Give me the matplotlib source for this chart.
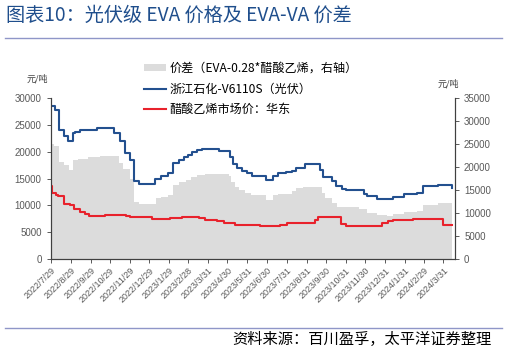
import pandas as pd
import matplotlib
matplotlib.use('Agg')
import matplotlib.pyplot as plt
from matplotlib.patches import Patch

plt.rcParams['font.family'] = ['Noto Sans CJK SC', 'DejaVu Sans']

# 浙江石化 V6110S（光伏），元/吨，左轴
eva_dates = ['2022-07-29', '2022-08-04', '2022-08-11', '2022-08-18', '2022-08-25',
             '2022-09-01', '2022-09-05', '2022-09-12', '2022-10-09', '2022-11-05',
             '2022-11-14', '2022-11-22', '2022-11-29', '2022-12-05', '2022-12-13',
             '2023-01-08', '2023-01-17', '2023-01-28', '2023-02-05', '2023-02-14',
             '2023-02-21', '2023-02-28', '2023-03-06', '2023-03-13', '2023-03-21',
             '2023-04-17', '2023-05-04', '2023-05-09', '2023-05-15', '2023-05-22',
             '2023-05-30', '2023-06-07', '2023-06-29', '2023-07-10', '2023-07-18',
             '2023-07-30', '2023-08-08', '2023-08-15', '2023-08-29', '2023-09-21',
             '2023-09-26', '2023-10-09', '2023-10-16', '2023-10-25', '2023-11-01',
             '2023-11-28', '2023-12-03', '2023-12-18', '2024-01-13', '2024-01-29',
             '2024-02-19', '2024-02-28', '2024-03-23', '2024-04-14']
eva_values = [28500, 27800, 24000, 23000, 22000,
              23500, 23800, 24000, 24500, 23500,
              22000, 19700, 18500, 14500, 14000,
              15000, 15500, 16000, 18000, 18500,
              19000, 19500, 20000, 20300, 20500,
              20200, 19000, 17800, 17000, 16500,
              16000, 15500, 14800, 15500, 16000,
              16200, 16500, 17000, 17700, 16700,
              15300, 14600, 13600, 13100, 12900,
              12200, 11700, 11200, 11600, 12100,
              12350, 13600, 13850, 13300]

# 醋酸乙烯市场价：华东，元/吨，左轴
va_dates = ['2022-07-29', '2022-07-31', '2022-08-06', '2022-08-10', '2022-08-18',
            '2022-08-28', '2022-09-03', '2022-09-12', '2022-09-20', '2022-09-27',
            '2022-10-22', '2022-11-23', '2022-11-29', '2023-01-02', '2023-01-07',
            '2023-01-31', '2023-02-18', '2023-03-16', '2023-03-26', '2023-04-13',
            '2023-04-25', '2023-05-12', '2023-06-20', '2023-07-13', '2023-07-21',
            '2023-08-01', '2023-09-13', '2023-09-18', '2023-10-24', '2023-11-01',
            '2023-12-19', '2023-12-27', '2024-01-04', '2024-01-12', '2024-02-13',
            '2024-03-31', '2024-04-14']
va_values = [13700, 12300, 12000, 11700, 10200,
             10000, 9300, 8800, 8400, 8000,
             8200, 8000, 7850, 7400, 7550,
             7600, 7800, 7600, 7350, 7100,
             6800, 6350, 6100, 6200, 6400,
             6750, 7200, 7750, 6600, 6100,
             6100, 6700, 7100, 7350, 7500,
             6300, 6300]

# 价差（EVA-0.28*醋酸乙烯），元/吨，右轴
spread_dates = ['2022-07-29', '2022-08-03', '2022-08-11', '2022-08-19', '2022-08-26',
                '2022-09-01', '2022-09-09', '2022-09-25', '2022-10-14', '2022-11-13',
                '2022-11-19', '2022-11-29', '2022-12-05', '2022-12-13', '2023-01-09',
                '2023-01-17', '2023-01-28', '2023-02-05', '2023-02-14', '2023-02-24',
                '2023-03-04', '2023-03-13', '2023-03-26', '2023-05-02', '2023-05-06',
                '2023-05-12', '2023-05-18', '2023-05-27', '2023-06-05', '2023-06-29',
                '2023-07-10', '2023-07-18', '2023-08-08', '2023-08-15', '2023-08-26',
                '2023-09-24', '2023-09-29', '2023-10-09', '2023-10-17', '2023-11-02',
                '2023-11-20', '2023-12-03', '2023-12-18', '2024-01-03', '2024-01-13',
                '2024-01-29', '2024-02-19', '2024-02-28', '2024-03-23', '2024-04-14']
spread_values = [25100, 24600, 21150, 20400, 19350,
                 21500, 21800, 22200, 22400, 21000,
                 19500, 17500, 12500, 11950, 13300,
                 13550, 13900, 16100, 16800, 17300,
                 17900, 18400, 18600, 18000, 16800,
                 15700, 15000, 14400, 13900, 12800,
                 13900, 14100, 14850, 15400, 15700,
                 14300, 13200, 12100, 11400, 11300,
                 10900, 10070, 9570, 9350, 9780,
                 10150, 10500, 11740, 12110, 11740]

tick_labels = ['2022/7/29', '2022/8/29', '2022/9/29', '2022/10/29', '2022/11/29',
               '2022/12/29', '2023/1/29', '2023/2/28', '2023/3/31', '2023/4/30',
               '2023/5/31', '2023/6/30', '2023/7/31', '2023/8/31', '2023/9/30',
               '2023/10/31', '2023/11/30', '2023/12/31', '2024/1/31', '2024/2/29',
               '2024/3/31']

eva_x = pd.to_datetime(eva_dates)
va_x = pd.to_datetime(va_dates)
spread_x = pd.to_datetime(spread_dates)
ticks = pd.to_datetime(tick_labels, format='%Y/%m/%d')

blue = '#23508F'
red = '#E8222C'
grey = '#DCDCDC'
tick_col = '#595959'

fig = plt.figure(figsize=(5.07, 3.55), dpi=100)
ax = fig.add_axes([0.1, 0.2704, 0.7975, 0.4527])
ax2 = ax.twinx()

ax2.fill_between(spread_x, spread_values, step='post', color=grey, linewidth=0)
ax.plot(eva_x, eva_values, drawstyle='steps-post', color=blue, lw=1.5)
ax.plot(va_x, va_values, drawstyle='steps-post', color=red, lw=1.5)

ax.set_zorder(ax2.get_zorder() + 1)
ax.patch.set_visible(False)

ax.set_ylim(0, 30000)
ax2.set_ylim(0, 35000)
ax.set_yticks(range(0, 30001, 5000))
ax2.set_yticks(range(0, 35001, 5000))
ax.set_xlim(pd.Timestamp('2022-07-29'), pd.Timestamp('2024-04-18'))
ax.set_xticks(ticks)
ax.set_xticklabels(tick_labels, rotation=45, ha='right', rotation_mode='anchor')

for a in (ax, ax2):
    a.spines['top'].set_visible(False)
    for s in ('left', 'right', 'bottom'):
        a.spines[s].set_color('#404040')
        a.spines[s].set_linewidth(0.8)
    a.tick_params(labelsize=7, colors=tick_col, length=3, width=0.7)
    for lab in a.get_xticklabels() + a.get_yticklabels():
        lab.set_family('Liberation Sans')
        lab.set_color(tick_col)
ax.tick_params(axis='x', labelsize=6.5, pad=2)

fig.text(0.073, 1 - 79 / 355, '元/吨', fontsize=6.5, ha='center', va='center', color='#404040')
fig.text(0.884, 1 - 84 / 355, '元/吨', fontsize=6.5, ha='center', va='center', color='#404040')

handles = [Patch(facecolor=grey, edgecolor='none'),
           plt.Line2D([], [], color=blue, lw=1.5),
           plt.Line2D([], [], color=red, lw=1.5)]
labels = ['价差（EVA-0.28*醋酸乙烯，右轴）', '浙江石化-V6110S（光伏）', '醋酸乙烯市场价：华东']
fig.legend(handles, labels, loc='upper left', bbox_to_anchor=(0.284, 1 - 62 / 355),
           frameon=False, fontsize=8.7, handlelength=1.8, handleheight=0.5,
           handletextpad=0.3, labelspacing=0.62, borderaxespad=0, borderpad=0)

fig.text(0.012, 1 - 15 / 355, '图表10：光伏级 EVA 价格及 EVA-VA 价差', fontsize=13.8,
         color='#1F4E8C', ha='left', va='center')
fig.add_artist(plt.Line2D([0.01, 0.99], [1 - 38 / 355] * 2, color='#8F96C8', lw=1.0))
fig.add_artist(plt.Line2D([0.01, 0.99], [1 - 328 / 355] * 2, color='#8F96C8', lw=1.0))
fig.text(0.97, 1 - 339 / 355, '资料来源：百川盈孚，太平洋证券整理', fontsize=11,
         style='italic', ha='right', va='center', color='#000000')

fig.savefig('out.png', dpi=100)
